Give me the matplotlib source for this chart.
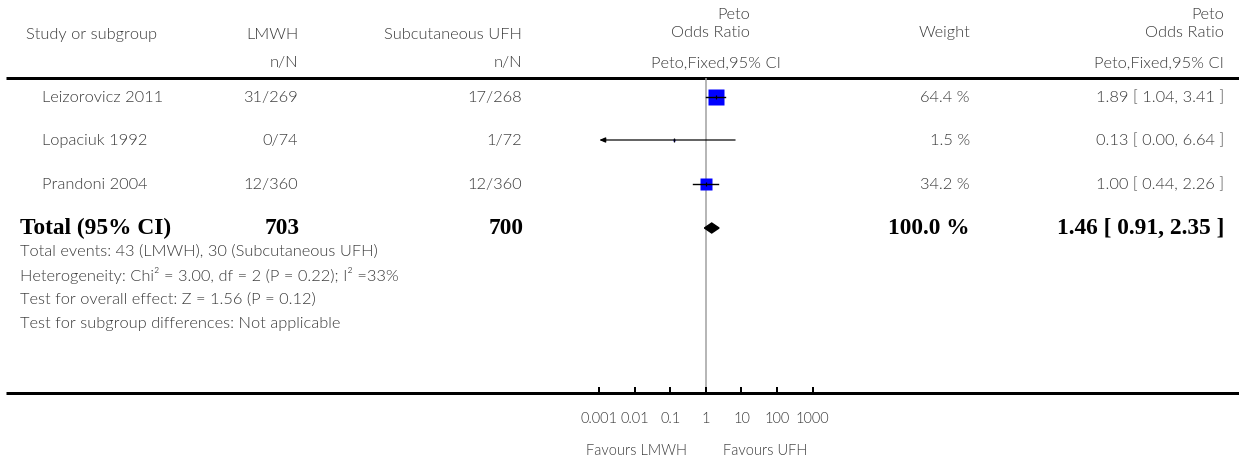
import matplotlib
matplotlib.use("Agg")
import matplotlib.pyplot as plt
import numpy as np
from matplotlib.patches import Polygon

# ---------------- data ----------------
studies = ["Leizorovicz 2011", "Lopaciuk 1992", "Prandoni 2004"]
lmwh_events = [31, 0, 12]
lmwh_total = [269, 74, 360]
ufh_events = [17, 1, 12]
ufh_total = [268, 72, 360]
odds_ratio = [1.89, 0.13, 1.00]
ci_low = [1.04, 0.00, 0.44]
ci_high = [3.41, 6.64, 2.26]
weights = [64.4, 1.5, 34.2]
total_weight = 100.0
total_or = 1.46
total_low = 0.91
total_high = 2.35
total_lmwh = 703
total_ufh = 700
axis_ticks = [0.001, 0.01, 0.1, 1, 10, 100, 1000]
axis_labels = ["0.001", "0.01", "0.1", "1", "10", "100", "1000"]
footer_lines = [
    "Total events: 43 (LMWH), 30 (Subcutaneous UFH)",
    "Heterogeneity: Chi\u00b2 = 3.00, df = 2 (P = 0.22); I\u00b2 =33%",
    "Test for overall effect: Z = 1.56 (P = 0.12)",
    "Test for subgroup differences: Not applicable",
]
favours_left = "Favours LMWH"
favours_right = "Favours UFH"

# ---------------- layout ----------------
W, H, DPI = 1239, 462, 100
PX = 72.0 / DPI  # points per pixel
SANS = ["Lato", "DejaVu Sans"]
SERIF = ["Liberation Serif", "DejaVu Serif"]
TXT = "#383838"
FS = 11.8
LIGHT = 300

row_y = [98, 141, 185]
total_y = 228
footer_y = [252, 276, 300, 324]
top_line_y = 78
axis_y = 393
plot_left, plot_right = 599, 812.7

fig = plt.figure(figsize=(W / DPI, H / DPI), dpi=DPI)
bg = fig.add_axes([0, 0, 1, 1])
bg.set_xlim(0, W)
bg.set_ylim(H, 0)
bg.axis("off")


def t(x, y, s, ha="left", **kw):
    kw.setdefault("fontsize", FS)
    kw.setdefault("color", TXT)
    kw.setdefault("family", SANS)
    kw.setdefault("fontweight", LIGHT)
    bg.text(x, y, s, ha=ha, va="center", **kw)


# header
t(26, 35, "Study or subgroup")
t(298, 35, "LMWH", ha="right")
t(522, 35, "Subcutaneous UFH", ha="right")
t(298, 63, "n/N", ha="right")
t(522, 63, "n/N", ha="right")
t(750, 15, "Peto", ha="right")
t(750, 33, "Odds Ratio", ha="right")
t(781, 63, "Peto,Fixed,95% CI", ha="right")
t(970, 33, "Weight", ha="right")
t(1224, 15, "Peto", ha="right")
t(1224, 33, "Odds Ratio", ha="right")
t(1224, 63, "Peto,Fixed,95% CI", ha="right")

bg.plot([6, W], [top_line_y, top_line_y], color="black", lw=3 * PX, solid_capstyle="butt")
bg.plot([6, W], [axis_y, axis_y], color="black", lw=3 * PX, solid_capstyle="butt")

# study rows
for i, name in enumerate(studies):
    y = row_y[i]
    t(42, y, name)
    t(298, y, f"{lmwh_events[i]}/{lmwh_total[i]}", ha="right")
    t(522, y, f"{ufh_events[i]}/{ufh_total[i]}", ha="right")
    t(970, y, f"{weights[i]:.1f} %", ha="right")
    t(1224, y, f"{odds_ratio[i]:.2f} [ {ci_low[i]:.2f}, {ci_high[i]:.2f} ]", ha="right")

# total row
bkw = dict(family=SERIF, fontsize=16.8, fontweight="bold", color="black")
t(20, total_y, "Total (95% CI)", **bkw)
t(300, total_y, f"{total_lmwh}", ha="right", **bkw)
t(524, total_y, f"{total_ufh}", ha="right", **bkw)
t(970, total_y, f"{total_weight:.1f} %", ha="right", **bkw)
t(1224, total_y, f"{total_or:.2f} [ {total_low:.2f}, {total_high:.2f} ]", ha="right", **bkw)

for y, s in zip(footer_y, footer_lines):
    t(20, y, s)

# ---------------- forest axes ----------------
ax = fig.add_axes([plot_left / W, (H - axis_y) / H, (plot_right - plot_left) / W, (axis_y - top_line_y) / H])
ax.set_xscale("log")
ax.set_xlim(axis_ticks[0], axis_ticks[-1])
ax.set_ylim(axis_y, top_line_y)
ax.patch.set_alpha(0)
for sp in ax.spines.values():
    sp.set_visible(False)
ax.set_yticks([])
ax.set_xticks(axis_ticks)
ax.set_xticklabels(axis_labels)
ax.xaxis.set_minor_locator(matplotlib.ticker.NullLocator())
ax.tick_params(axis="x", direction="in", length=6 * PX, width=2 * PX, color="black",
               labelcolor=TXT, labelsize=10.5, pad=19 * PX)
for lab in ax.get_xticklabels():
    lab.set_family(SANS)
    lab.set_fontweight(LIGHT)

ax.axvline(1, color="#a0a0a0", lw=1.5 * PX, zorder=1)

xmin = axis_ticks[0]
for i in range(len(studies)):
    y = row_y[i] - 1
    lo = max(ci_low[i], xmin)
    side = 2.0 * np.sqrt(weights[i])
    ax.plot([odds_ratio[i]], [y], marker="s", ms=side * PX, color="#0000ff", mec="none", zorder=2)
    if ci_low[i] < xmin:
        ax.annotate("", xy=(xmin * 1.02, y), xytext=(ci_high[i], y),
                    arrowprops=dict(arrowstyle="-|>,head_length=0.35,head_width=0.15",
                                    color="black", lw=1.2 * PX, shrinkA=0, shrinkB=0),
                    zorder=3)
    else:
        ax.plot([lo, ci_high[i]], [y, y], color="black", lw=1.4 * PX, zorder=3)
    ax.plot([odds_ratio[i]], [y], marker="|", ms=5 * PX, mew=1.2 * PX, color="black", zorder=4)

diamond = Polygon([(total_low, total_y), (total_or, total_y - 5), (total_high, total_y),
                   (total_or, total_y + 5)], closed=True, color="black", zorder=3)
ax.add_patch(diamond)

# favours labels
t(687, 451, favours_left, ha="right", fontsize=10.5)
t(723, 451, favours_right, ha="left", fontsize=10.5)

fig.savefig("out.png", dpi=DPI)
